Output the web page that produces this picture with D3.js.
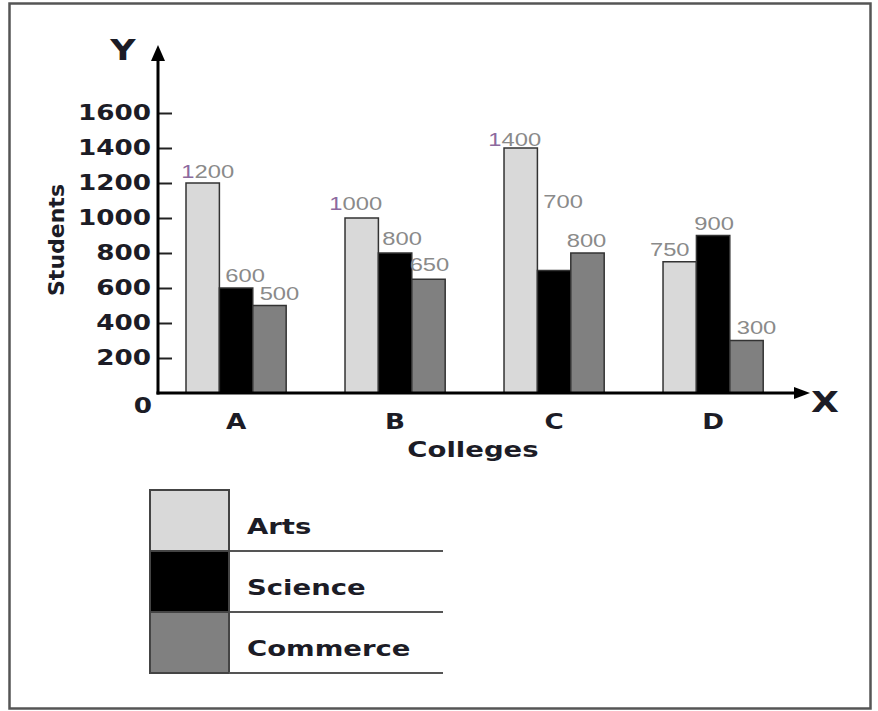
<!DOCTYPE html>
<html>
<head>
<meta charset="utf-8">
<script src="https://cdn.jsdelivr.net/npm/d3@7/dist/d3.min.js"></script>
<style>
  html, body { margin: 0; padding: 0; background: #fff; }
  svg { display: block; }
</style>
</head>
<body>
<svg id="chart" width="878" height="711"></svg>
<script>
// Students enrolled per college, by stream
const colleges = ["A", "B", "C", "D"];
const streams = ["Arts", "Science", "Commerce"];
const arts = [1200, 1000, 1400, 750];
const science = [600, 800, 700, 900];
const commerce = [500, 650, 800, 300];
const yTicks = [0, 200, 400, 600, 800, 1000, 1200, 1400, 1600];

const streamValues = { Arts: arts, Science: science, Commerce: commerce };
const fills = { Arts: "#d9d9d9", Science: "#000000", Commerce: "#808080" };

// small nudges for the value labels (dx, dy from the bar top centre)
const labelNudge = {
  "A|Arts": [5, -5], "A|Science": [9, -6], "A|Commerce": [10, -5],
  "B|Arts": [-6, -8], "B|Science": [7, -8], "B|Commerce": [1, -8],
  "C|Arts": [-6, -2], "C|Science": [9, -62], "C|Commerce": [-1, -6],
  "D|Arts": [-10, -6], "D|Science": [1, -5], "D|Commerce": [10, -6]
};

const SX = 1.25; // horizontal stretch of the lettering
const boldFont = "'DejaVu Sans', Verdana, sans-serif";
const textDark = "#1c1c26";

const svg = d3.select("#chart");

// outer frame
svg.append("rect")
  .attr("x", 9.5).attr("y", 3.5).attr("width", 861).attr("height", 705)
  .attr("fill", "#fff").attr("stroke", "#555").attr("stroke-width", 2.5);

const y = d3.scaleLinear().domain([0, 1600]).range([393, 113]);
const x0 = d3.scaleBand().domain(colleges)
  .range([186, 763.2]).paddingInner(0.37).paddingOuter(0).align(0);
const x1 = d3.scaleBand().domain(streams).range([0, x0.bandwidth()]).padding(0);

// y axis ticks and labels
const yAxis = d3.axisLeft(y).tickValues(yTicks)
  .tickSizeInner(-14).tickSizeOuter(0).tickPadding(7)
  .tickFormat(d3.format("d"));
const gy = svg.append("g").attr("transform", "translate(158,0)").call(yAxis);
gy.select(".domain").remove();
gy.selectAll(".tick line").attr("stroke", "#222").attr("stroke-width", 2)
  .filter(d => d === 0).remove();
gy.selectAll(".tick text")
  .attr("fill", textDark).attr("font-family", boldFont)
  .attr("font-weight", "bold").attr("font-size", 21);
gy.selectAll(".tick").filter(d => d === 0).select("text")
  .attr("x", -6).attr("y", 13);

// bars
const groups = svg.append("g").selectAll("g").data(colleges).join("g")
  .attr("transform", d => `translate(${x0(d)},0)`);

groups.selectAll("rect")
  .data((c, i) => streams.map(s => ({ college: c, stream: s, value: streamValues[s][i] })))
  .join("rect")
  .attr("x", d => x1(d.stream))
  .attr("y", d => y(d.value))
  .attr("width", x1.bandwidth())
  .attr("height", d => y(0) - y(d.value))
  .attr("fill", d => fills[d.stream])
  .attr("stroke", "#333").attr("stroke-width", 1.5);

// value labels
groups.selectAll("text.value")
  .data((c, i) => streams.map(s => ({ college: c, stream: s, value: streamValues[s][i] })))
  .join("text")
  .attr("class", "value")
  .attr("text-anchor", "middle")
  .attr("x", d => x1(d.stream) + x1.bandwidth() / 2 + labelNudge[d.college + "|" + d.stream][0])
  .attr("y", d => y(d.value) + labelNudge[d.college + "|" + d.stream][1])
  .attr("font-family", "'Liberation Sans', Arial, sans-serif")
  .attr("font-size", 19)
  .attr("fill", "#8a8a8a")
  .each(function (d) {
    const t = d3.select(this);
    const s = String(d.value);
    if (d.value >= 1000) {
      t.append("tspan").attr("fill", "#8c6a9e").text(s[0]);
      t.append("tspan").text(s.slice(1));
    } else {
      t.text(s);
    }
  });

// axis lines with arrow heads
const axisG = svg.append("g");
axisG.append("line").attr("x1", 158).attr("y1", 394.5).attr("x2", 158).attr("y2", 56)
  .attr("stroke", "#000").attr("stroke-width", 3);
axisG.append("path").attr("d", "M158,45 L151,61 L165,61 Z").attr("fill", "#000");
axisG.append("line").attr("x1", 156.5).attr("y1", 393).attr("x2", 798).attr("y2", 393)
  .attr("stroke", "#000").attr("stroke-width", 3);
axisG.append("path").attr("d", "M810,393 L794,387 L794,399 Z").attr("fill", "#000");

// category labels
svg.append("g").selectAll("text").data(colleges).join("text")
  .attr("x", d => x0(d) + x0.bandwidth() / 2)
  .attr("y", 429)
  .attr("text-anchor", "middle")
  .attr("font-family", boldFont).attr("font-weight", "bold")
  .attr("font-size", 21).attr("fill", textDark)
  .text(d => d);

// axis titles
svg.append("text").attr("x", 123).attr("y", 60).attr("text-anchor", "middle")
  .attr("font-family", boldFont).attr("font-weight", "bold")
  .attr("font-size", 28).attr("fill", textDark).text("Y");
svg.append("text").attr("x", 825).attr("y", 412).attr("text-anchor", "middle")
  .attr("font-family", boldFont).attr("font-weight", "bold")
  .attr("font-size", 29).attr("fill", textDark).text("X");
svg.append("text").attr("x", 473).attr("y", 457).attr("text-anchor", "middle")
  .attr("font-family", boldFont).attr("font-weight", "bold")
  .attr("font-size", 22).attr("fill", textDark).text("Colleges");

// legend
const legTop = 490, legRow = 61;
const legend = svg.append("g");
streams.forEach((s, i) => {
  const top = legTop + i * legRow;
  legend.append("rect").attr("x", 150).attr("y", top).attr("width", 79).attr("height", legRow)
    .attr("fill", fills[s]).attr("stroke", "#444").attr("stroke-width", 2);
  legend.append("line").attr("x1", 229).attr("x2", 443)
    .attr("y1", top + legRow).attr("y2", top + legRow)
    .attr("stroke", "#555").attr("stroke-width", 2);
  legend.append("text").attr("class", "leg").attr("x", 247).attr("y", top + legRow - 17)
    .attr("font-family", boldFont).attr("font-weight", "bold")
    .attr("font-size", 22).attr("fill", textDark).text(s);
});

// widen all horizontal lettering
svg.selectAll("text").each(function () {
  const t = d3.select(this);
  const xv = +t.attr("x") || 0;
  t.attr("x", xv / SX).attr("transform", `scale(${SX},1)`);
});

// rotated y title (unstretched along its length)
svg.append("text").attr("transform", "translate(64,240) rotate(-90)")
  .attr("text-anchor", "middle")
  .attr("font-family", boldFont).attr("font-weight", "bold")
  .attr("font-size", 22).attr("fill", textDark).text("Students");
</script>
</body>
</html>
